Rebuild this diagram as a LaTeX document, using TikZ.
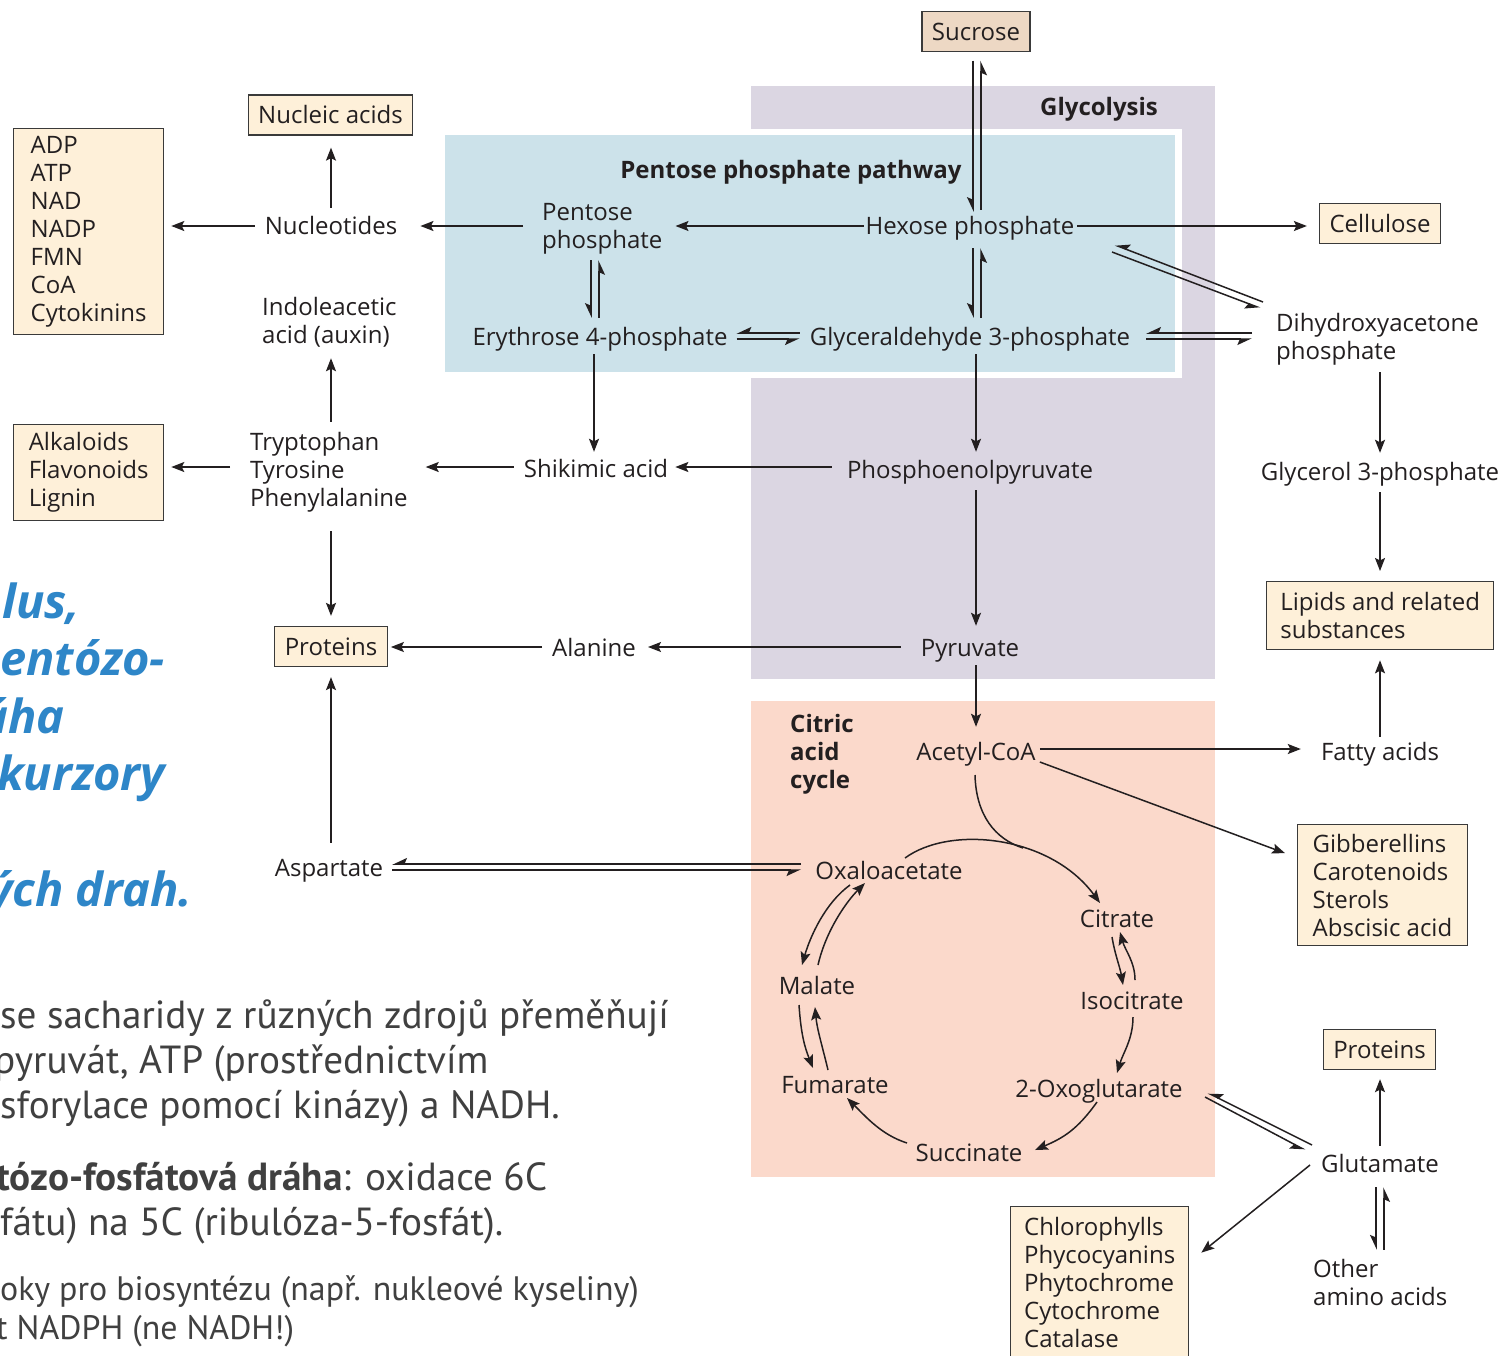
\documentclass[tikz,border=0pt]{standalone}
\usepackage{fontspec}
\setmainfont{Open Sans}
\newfontfamily\dfont{Open Sans}
\newfontfamily\slidefont{PT Sans}
\newfontfamily\bluefont{Open Sans}
\usetikzlibrary{arrows.meta}
\definecolor{lav}{HTML}{DBD6E2}
\definecolor{pblue}{HTML}{CCE2EA}
\definecolor{salmon}{HTML}{FBD9CB}
\definecolor{cream}{HTML}{FEF0D9}
\definecolor{tan}{HTML}{EDD8C4}
\definecolor{edge}{HTML}{3A3A3A}
\definecolor{ink}{HTML}{231F20}
\definecolor{sblue}{HTML}{2E86C8}
\definecolor{sgray}{HTML}{404040}
\newcommand\dsize{\fontsize{24}{28}\selectfont}
\tikzset{
  lbl/.style={font=\dfont\dsize, text=ink, inner sep=0pt, text height=18pt, text depth=6pt, anchor=base},
  ml/.style={font=\dfont\dsize, text=ink, inner sep=0pt, align=left, anchor=west},
  box1/.style={lbl, draw=edge, line width=1.3pt, fill=cream, text height=19pt, text depth=2pt, inner xsep=10pt, inner ysep=9.5pt, anchor=center},
  boxl/.style={font=\dfont\dsize, text=ink, align=left, draw=edge, line width=1.3pt, fill=cream, anchor=north west, inner ysep=0pt},
  arr/.style={draw=ink, line width=1.5pt, -{Stealth[length=13pt,width=10pt,inset=2.5pt]}},
  plain/.style={draw=ink, line width=1.5pt},
  harp/.style={draw=ink, line width=1.5pt, -{Stealth[harpoon,swap,length=13pt,width=12pt,inset=2.5pt]}},
  slide/.style={anchor=base west, inner sep=0pt, text=sgray},
  blue/.style={anchor=base west, inner sep=0pt, text=sblue, font=\bluefont\fontsize{47}{57}\selectfont\bfseries\itshape},
}
\begin{document}
\begin{tikzpicture}[x=1pt,y=-1pt]
\useasboundingbox (0,0) rectangle (1503,1355);
\begin{scope}
\clip (0,0) rectangle (1503,1355);
\fill[white] (0,0) rectangle (1503,1355);
% background areas
\fill[lav] (751,86) rectangle (1215,679);
\fill[white] (439,129) rectangle (1182,378);
\fill[pblue] (445,135) rectangle (1175,372);
\fill[salmon] (751,701) rectangle (1215,1177);

% area labels
\node[lbl, font=\dfont\dsize\bfseries] (ppplbl) at (791,178) {Pentose phosphate pathway};
\node[lbl, font=\dfont\dsize\bfseries] (glyclbl) at (1099,115) {Glycolysis};
\node[ml, font=\dfont\dsize\bfseries] (cac) at (790,754) {Citric\\acid\\cycle};

% nodes
\node[box1, fill=tan] (sucrose) at (976,31.5) {Sucrose};
\node[box1] (nucacid) at (330.5,115) {Nucleic acids};
\node[boxl, minimum width=150pt, minimum height=206pt, inner xsep=15pt] (adp) at (13,128) {ADP\\ATP\\NAD\\NADP\\FMN\\CoA\\Cytokinins};
\node[lbl] (nucleo) at (331,234) {Nucleotides};
\node[ml] (pentp) at (542,228.5) {Pentose\\phosphate};
\node[lbl] (hexp) at (970,234) {Hexose phosphate};
\node[box1] (cell) at (1380,223.5) {Cellulose};
\node[ml] (iaa) at (262,322) {Indoleacetic\\acid (auxin)};
\node[lbl] (ery) at (600,345) {Erythrose 4-phosphate};
\node[lbl] (gapn) at (970,345) {Glyceraldehyde 3-phosphate};
\node[ml] (dhap) at (1276,339) {Dihydroxyacetone\\phosphate};
\node[boxl, minimum width=150pt, minimum height=96pt, inner xsep=15pt] (alk) at (13,424) {Alkaloids\\Flavonoids\\Lignin};
\node[ml] (trp) at (250,472) {Tryptophan\\Tyrosine\\Phenylalanine};
\node[lbl] (shik) at (596,477) {Shikimic acid};
\node[lbl] (pep) at (970,478) {Phosphoenolpyruvate};
\node[lbl] (g3p) at (1380,480) {Glycerol 3-phosphate};
\node[boxl, minimum width=227pt, minimum height=68pt, inner xsep=12pt] (lipids) at (1266,581) {Lipids and related\\substances};
\node[box1] (protL) at (331,646.5) {Proteins};
\node[lbl] (ala) at (594,656) {Alanine};
\node[lbl] (pyr) at (970,656) {Pyruvate};
\node[lbl] (acoa) at (976,760) {Acetyl-CoA};
\node[lbl] (fatty) at (1380,760) {Fatty acids};
\node[boxl, minimum width=165pt, minimum height=121pt, inner xsep=15pt] (gib) at (1297,824) {Gibberellins\\Carotenoids\\Sterols\\Abscisic acid};
\node[lbl] (asp) at (329,876) {Aspartate};
\node[lbl] (oxa) at (889,879) {Oxaloacetate};
\node[lbl] (cit) at (1117,927) {Citrate};
\node[lbl] (mal) at (817,994) {Malate};
\node[lbl] (iso) at (1132,1009) {Isocitrate};
\node[lbl] (fum) at (835,1093) {Fumarate};
\node[lbl] (oxo) at (1099,1097) {2-Oxoglutarate};
\node[lbl] (succ) at (969,1161) {Succinate};
\node[box1] (protR) at (1379.5,1049.5) {Proteins};
\node[lbl] (glu) at (1380,1172) {Glutamate};
\node[ml] (other) at (1313,1282) {Other\\amino acids};
\node[boxl, minimum width=178pt, minimum height=152pt, inner xsep=13pt] (chl) at (1010,1206) {Chlorophylls\\Phycocyanins\\Phytochrome\\Cytochrome\\Catalase};

% straight arrows
\draw[arr, shorten <=8pt, shorten >=12pt] (nucleo.north) -- (nucleo.north |- nucacid.south);
\draw[arr, shorten <=10pt, shorten >=7pt] ([yshift=2pt]nucleo.west) -- ([yshift=2pt]nucleo.west -| adp.east);
\draw[arr, shorten <=19pt, shorten >=23pt] ([yshift=2.5pt]pentp.west) -- ([yshift=2.5pt]pentp.west -| nucleo.east);
\draw[arr, shorten <=2pt, shorten >=13pt] ([yshift=2pt]hexp.west) -- ([yshift=2pt]hexp.west -| pentp.east);
\draw[arr, shorten <=3pt, shorten >=12pt] ([yshift=2pt]hexp.east) -- ([yshift=2pt]hexp.east -| cell.west);
\draw[arr, shorten <=7pt, shorten >=9pt] (g3p.north |- dhap.south) -- (g3p.north);
\draw[arr, shorten <=6pt, shorten >=10pt] (g3p.south) -- (g3p.south |- lipids.north);
\draw[arr, shorten <=5pt, shorten >=10pt] (fatty.north) -- (fatty.north |- lipids.south);
\draw[arr, shorten <=4pt, shorten >=20pt] ([yshift=5pt]acoa.east) -- ([yshift=5pt]acoa.east -| fatty.west);
\draw[arr] ([shift={(4,8)}]acoa.east) -- ([shift={(-12,-32)}]gib.west);
\draw[arr, shorten <=3pt, shorten >=7pt] ([xshift=-6pt]ery.south) -- ([xshift=-6pt]ery.south |- shik.north);
\draw[arr, shorten <=3pt, shorten >=8pt] ([xshift=6pt]gapn.south) -- ([xshift=6pt]gapn.south |- pep.north);
\draw[arr, shorten <=15pt, shorten >=7pt] ([yshift=5pt]pep.west) -- ([yshift=5pt]pep.west -| shik.east);
\draw[arr, shorten <=10pt, shorten >=18pt] ([yshift=4pt]shik.west) -- ([yshift=4pt]shik.west -| trp.east);
\draw[arr, shorten <=20pt, shorten >=7pt] ([yshift=5pt]trp.west) -- ([yshift=5pt]trp.west -| alk.east);
\draw[arr, shorten <=10pt, shorten >=11pt] (nucleo.south |- trp.north) -- (nucleo.south |- iaa.south);
\draw[arr, shorten <=19pt, shorten >=10pt] (protL.north |- trp.south) -- (protL.north);
\draw[arr, shorten <=6pt, shorten >=12pt] ([xshift=6pt]pep.south) -- ([xshift=6pt]pep.south |- pyr.north);
\draw[arr, shorten <=20pt, shorten >=12pt] ([yshift=3pt]pyr.west) -- ([yshift=3pt]pyr.west -| ala.east);
\draw[arr, shorten <=10pt, shorten >=3pt] ([yshift=3pt]ala.west) -- ([yshift=3pt]ala.west -| protL.east);
\draw[arr, shorten <=3pt, shorten >=15pt] ([xshift=6pt]pyr.south) -- ([xshift=6pt]pyr.south |- acoa.north);
\draw[arr, shorten <=15pt, shorten >=10pt] (protL.south |- asp.north) -- (protL.south);
\draw[arr, shorten <=8pt, shorten >=9pt] (glu.north) -- (glu.north |- protR.south);
\draw[arr] ([shift={(-70,-1)}]glu.center) -- ([shift={(12,-30)}]chl.east);

% reversible pairs (harpoons)
\draw[harp, shorten <=8.5pt, shorten >=4pt] ([xshift=-3pt]sucrose.south) -- ([xshift=-3pt]sucrose.south |- hexp.north);
\draw[harp, shorten <=6pt, shorten >=8.5pt] ([xshift=5pt]sucrose.south |- hexp.north) -- ([xshift=5pt]sucrose.south);
\draw[harp, shorten <=8pt, shorten >=9pt] ([xshift=3pt]hexp.south) -- ([xshift=3pt]hexp.south |- gapn.north);
\draw[harp, shorten <=9pt, shorten >=8pt] ([xshift=11pt]hexp.south |- gapn.north) -- ([xshift=11pt]hexp.south);
\draw[harp, shorten <=6pt, shorten >=9pt] ([xshift=-9pt]ery.north |- pentp.south) -- ([xshift=-9pt]ery.north);
\draw[harp, shorten <=9pt, shorten >=6pt] ([xshift=-1pt]ery.north) -- ([xshift=-1pt]ery.north |- pentp.south);
\draw[harp, shorten <=10pt, shorten >=9pt] ([yshift=6pt]gapn.west) -- ([yshift=6pt]gapn.west -| ery.east);
\draw[harp, shorten <=9pt, shorten >=10pt] (ery.east) -- (ery.east -| gapn.west);
\draw[harp, shorten <=24pt, shorten >=16pt] ([yshift=6pt]dhap.west) -- ([yshift=6pt]dhap.west -| gapn.east);
\draw[harp, shorten <=16pt, shorten >=24pt] (gapn.east) -- (gapn.east -| dhap.west);
\draw[harp] ([shift={(-13,-37)}]dhap.west) -- ([shift={(145,17)}]hexp.center);
\draw[harp] ([shift={(142,24)}]hexp.center) -- ([shift={(-16,-31)}]dhap.west);
\draw[harp, shorten <=14pt, shorten >=9pt] ([yshift=9pt]oxa.west) -- ([yshift=9pt]oxa.west -| asp.east);
\draw[harp, shorten <=9pt, shorten >=14pt] ([yshift=3pt]oxa.west -| asp.east) -- ([yshift=3pt]oxa.west);
\draw[harp] ([shift={(-68,-21)}]glu.center) -- ([shift={(109,2)}]oxo.center);
\draw[harp] ([shift={(106,6)}]oxo.center) -- ([shift={(-75,-16)}]glu.center);
\draw[harp, shorten <=9pt, shorten >=9pt] ([xshift=-4pt]glu.south) -- ([xshift=-4pt]glu.south |- other.north);
\draw[harp, shorten <=9pt, shorten >=9pt] ([xshift=4pt]glu.south |- other.north) -- ([xshift=4pt]glu.south);

% citric acid cycle
\draw[arr] ([shift={(16,-15)}]oxa.center) .. controls +(45,-33) and +(-50,-68) .. ([shift={(-17,-18)}]cit.center);
\draw[plain] ([shift={(-1,21)}]acoa.center) .. controls +(1,40) and +(-28,-9) .. ([shift={(-94,-73)}]cit.center);
\draw[arr] ([shift={(-5,16)}]cit.center) .. controls +(3,18) and +(-3,-18) .. ([shift={(-9,-18)}]iso.center);
\draw[arr] ([shift={(3,-23)}]iso.center) .. controls +(0,-18) and +(5,18) .. ([shift={(3,11)}]cit.center);
\draw[arr] ([shift={(1,14)}]iso.center) .. controls +(0,22) and +(6,-20) .. ([shift={(18,-18)}]oxo.center);
\draw[arr] ([shift={(-2,11)}]oxo.center) .. controls +(-20,28) and +(28,-12) .. ([shift={(66,-5)}]succ.center);
\draw[arr] ([shift={(-62,-12)}]succ.center) .. controls +(-25,-8) and +(20,20) .. ([shift={(12,11)}]fum.center);
\draw[arr] ([shift={(-18,17)}]mal.center) .. controls +(2,30) and +(-8,-20) .. ([shift={(-22,-19)}]fum.center);
\draw[arr] ([shift={(-7,-17)}]fum.center) .. controls +(-6,-25) and +(2,22) .. ([shift={(-2,19)}]mal.center);
\draw[arr] ([shift={(-39,12)}]oxa.center) .. controls +(-25,18) and +(8,-28) .. ([shift={(-15,-23)}]mal.center);
\draw[arr] ([shift={(1,-23)}]mal.center) .. controls +(8,-35) and +(-18,18) .. ([shift={(-24,10)}]oxa.center);

% slide text (clipped at the left edge)
\node[blue] (b1) at (2,618) {lus,};
\node[blue] (b2) at (0,675) {entózo-};
\node[blue] (b3) at (-20,733) {áha};
\node[blue] (b4) at (-3,790) {kurzory};
\node[blue] (b5) at (-12,906) {ých drah.};
\node[slide, font=\slidefont\fontsize{39.2}{45}\selectfont] (g1) at (0,1028) {se sacharidy z různých zdrojů přeměňují};
\node[slide, font=\slidefont\fontsize{39.2}{45}\selectfont] (g2) at (-6,1073) {pyruvát, ATP (prostřednictvím};
\node[slide, font=\slidefont\fontsize{39.2}{45}\selectfont] (g3) at (0,1118) {sforylace pomocí kinázy) a NADH.};
\node[slide, font=\slidefont\fontsize{39.2}{45}\selectfont] (g4) at (-4,1190) {\textbf{tózo-fosfátová dráha}: oxidace 6C};
\node[slide, font=\slidefont\fontsize{39.2}{45}\selectfont] (g5) at (0,1235) {fátu) na 5C (ribulóza-5-fosfát).};
\node[slide, font=\slidefont\fontsize{33.9}{39}\selectfont] (g6) at (0,1300) {oky pro biosyntézu (např. nukleové kyseliny)};
\node[slide, font=\slidefont\fontsize{33.9}{39}\selectfont] (g7) at (-4,1339) {t NADPH (ne NADH!)};
\end{scope}
\end{tikzpicture}
\end{document}
